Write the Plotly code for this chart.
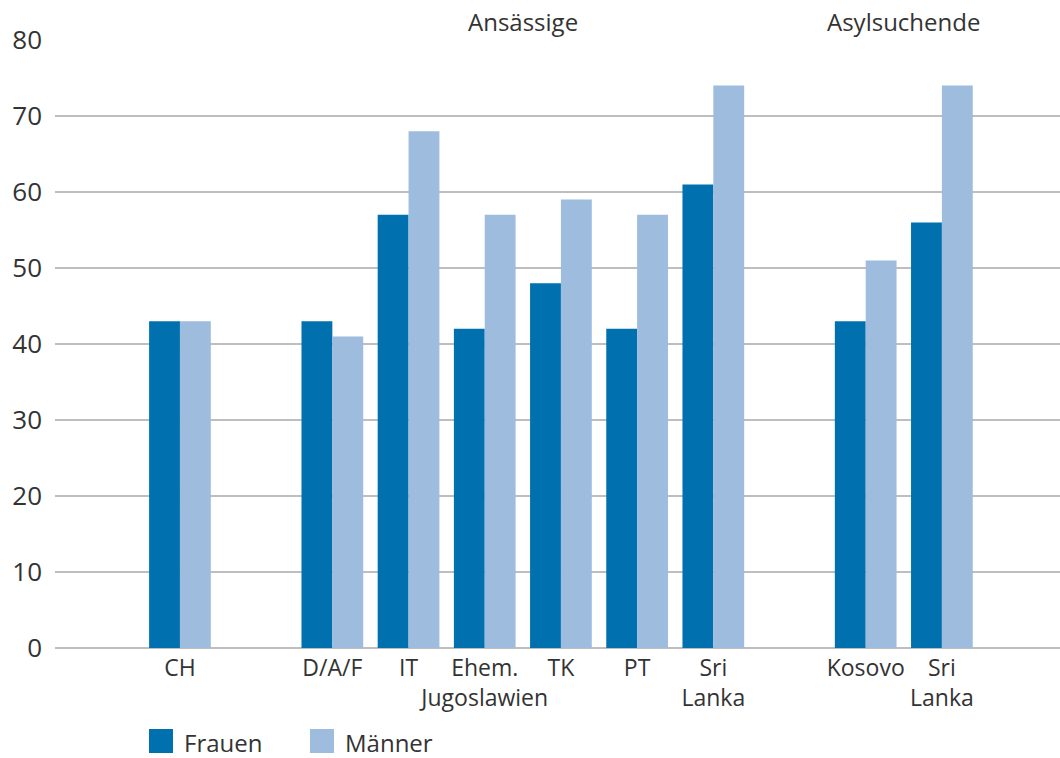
import plotly.graph_objects as go

categories = ["CH", "", "D/A/F", "IT", "Ehem.<br>Jugoslawien", "TK", "PT", "Sri<br>Lanka", "", "Kosovo", "Sri<br>Lanka"]
frauen = [43, None, 43, 57, 42, 48, 42, 61, None, 43, 56]
maenner = [43, None, 41, 68, 57, 59, 57, 74, None, 51, 74]
series_names = ["Frauen", "Männer"]
group_labels = ["Ansässige", "Asylsuchende"]
group_centers = [4.5, 9.5]
y_ticks = [0, 10, 20, 30, 40, 50, 60, 70, 80]

colors = ["#0071AE", "#9EBCDE"]
FONT = "Open Sans"
TXT = "#333333"

xs = list(range(len(categories)))

fig = go.Figure()
for name, vals, col in zip(series_names, [frauen, maenner], colors):
    fig.add_trace(go.Bar(x=xs, y=vals, name=name, marker=dict(color=col, line=dict(width=0)),
                         showlegend=False))

for lab, cx in zip(group_labels, group_centers):
    fig.add_annotation(x=cx, xref="x", y=1, yref="paper", yanchor="bottom", text=lab,
                       showarrow=False, font=dict(family=FONT, size=24, color=TXT), yshift=0)

# manual legend
leg_x = [149, 310]
for name, col, lx in zip(series_names, colors, leg_x):
    fig.add_shape(type="rect", xref="paper", yref="paper",
                  x0=(lx - 55) / 1005, x1=(lx + 24 - 55) / 1005,
                  y0=(758 - 110 - 753) / 608, y1=(758 - 110 - 729) / 608,
                  fillcolor=col, line=dict(width=0))
    fig.add_annotation(xref="paper", yref="paper", x=(lx + 33 - 55) / 1005, xanchor="left",
                       y=(648 - 742) / 608, yanchor="middle", text=name, showarrow=False,
                       font=dict(family=FONT, size=24, color=TXT))

fig.update_layout(
    width=1060, height=758,
    margin=dict(l=55, r=0, t=40, b=110),
    paper_bgcolor="white", plot_bgcolor="white",
    barmode="group", bargap=0.19, bargroupgap=0,
    font=dict(family=FONT, color=TXT),
    xaxis=dict(tickmode="array", tickvals=xs, ticktext=categories, range=[-1.64, 11.55],
               showgrid=False, zeroline=False, showline=False, ticks="", tickangle=0,
               automargin=False,
               tickfont=dict(family=FONT, size=23, color=TXT), ticklabelstandoff=4),
    yaxis=dict(range=[0, 80], tickvals=y_ticks, showgrid=True, gridcolor="#BEBEBE", gridwidth=2,
               zeroline=True, zerolinecolor="#BEBEBE", zerolinewidth=2, showline=False, ticks="",
               automargin=False,
               tickfont=dict(family=FONT, size=26, color=TXT), ticklabelstandoff=12),
)

fig.write_html("out.html")
